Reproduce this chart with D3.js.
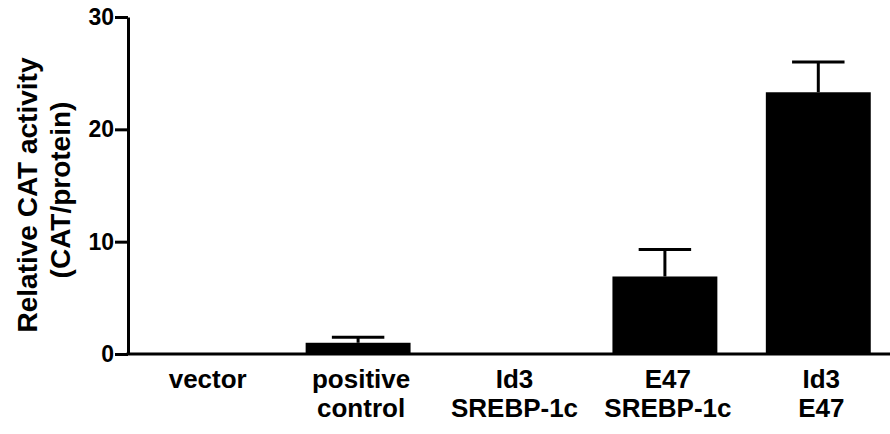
<!DOCTYPE html>
<html>
<head>
<meta charset="utf-8">
<script src="https://cdn.jsdelivr.net/npm/d3@7"></script>
<style>
  body { margin: 0; background: #fff; }
  text { font-family: "Liberation Sans", Arial, Helvetica, sans-serif; font-weight: bold; }
</style>
</head>
<body>
<div id="plot"></div>
<script>
// data
let groups = ["vector", "positive control", "Id3 SREBP-1c", "E47 SREBP-1c", "Id3 E47"];
let labelLines = [["vector"], ["positive", "control"], ["Id3", "SREBP-1c"], ["E47", "SREBP-1c"], ["Id3", "E47"]];
let means = [0, 1.0, 0, 6.9, 23.3];
let errors = [0, 0.5, 0, 2.4, 2.7];
let yTicks = [0, 10, 20, 30];

let drawChart = function(){
    let W = 890, H = 434;
    let margin = {top: 17, left: 128, right: -5, bottom: 80};

    let svg = d3.select("#plot")
        .append("svg")
        .attr("width", W)
        .attr("height", H);

    let x = d3.scaleBand()
        .domain(groups)
        .range([margin.left, W - margin.right])
        .paddingInner(0.316)
        .paddingOuter(0.158);

    let y = d3.scaleLinear()
        .domain([0, 30])
        .range([H - margin.bottom, margin.top]);

    // bars
    svg.append("g")
        .selectAll("rect")
        .data(groups)
        .enter()
        .append("rect")
        .attr("x", d => x(d))
        .attr("y", (d, i) => y(means[i]))
        .attr("width", x.bandwidth())
        .attr("height", (d, i) => y(0) - y(means[i]))
        .attr("fill", "#000");

    // error bars (upper only)
    let eb = svg.append("g")
        .attr("stroke", "#000")
        .attr("stroke-width", 3);
    groups.forEach(function(g, i){
        if (errors[i] <= 0) return;
        let cx = x(g) + x.bandwidth() / 2;
        let top = y(means[i] + errors[i]);
        eb.append("line")
            .attr("x1", cx).attr("x2", cx)
            .attr("y1", y(means[i])).attr("y2", top);
        eb.append("line")
            .attr("x1", cx - x.bandwidth() / 4).attr("x2", cx + x.bandwidth() / 4)
            .attr("y1", top).attr("y2", top);
    });

    // y axis
    let yAxis = svg.append("g")
        .attr("transform", "translate(" + margin.left + ",0)")
        .call(d3.axisLeft(y).tickValues(yTicks).tickSize(13).tickPadding(1).tickSizeOuter(0));
    yAxis.select(".domain").attr("stroke-width", 3).attr("stroke", "#000");
    yAxis.selectAll(".tick line").attr("stroke-width", 3).attr("stroke", "#000");
    yAxis.selectAll(".tick text")
        .attr("fill", "#000")
        .style("font-size", "23px")
        .style("font-family", "'Liberation Sans', Arial, sans-serif")
        .style("font-weight", "bold");

    // x axis line
    svg.append("line")
        .attr("x1", margin.left - 1.5).attr("x2", W)
        .attr("y1", y(0)).attr("y2", y(0))
        .attr("stroke", "#000")
        .attr("stroke-width", 3);

    // category labels
    groups.forEach(function(g, i){
        let t = svg.append("text")
            .attr("text-anchor", "middle")
            .style("font-size", "26px")
            .attr("fill", "#000");
        labelLines[i].forEach(function(line, j){
            t.append("tspan")
                .attr("x", x(g) + x.bandwidth() / 2 + 3)
                .attr("y", 388 + j * 29)
                .text(line);
        });
    });

    // y title
    svg.append("text")
        .attr("text-anchor", "middle")
        .attr("transform", "translate(37,195)rotate(-90)")
        .style("font-size", "28px")
        .text("Relative CAT activity");
    svg.append("text")
        .attr("text-anchor", "middle")
        .attr("transform", "translate(70,190)rotate(-90)")
        .style("font-size", "28px")
        .text("(CAT/protein)");
};

drawChart();
</script>
</body>
</html>
